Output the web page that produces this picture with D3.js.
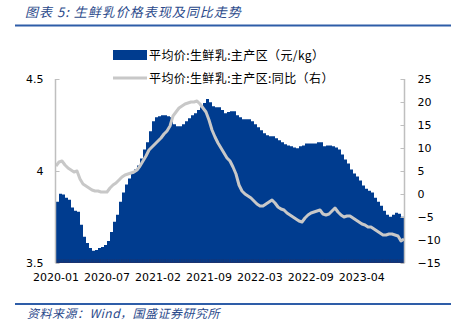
<!DOCTYPE html>
<html><head><meta charset="utf-8">
<script src="https://cdn.jsdelivr.net/npm/d3@7/dist/d3.min.js"></script>
<style>
html,body{margin:0;padding:0;background:#fff;}
svg{display:block;}
</style></head>
<body>
<svg id="c" width="466" height="327"></svg>
<script>
// ---- data ----
const titleText = "图表 5:  生鲜乳价格表现及同比走势";
const sourceText = "资料来源：Wind，国盛证券研究所";
const seriesNames = ["平均价:生鲜乳:主产区（元/kg）", "平均价:生鲜乳:主产区:同比（右）"];
const totalWeeks = 198; // weekly categories 0..198
const tickWeeks = [0, 29, 58, 87, 116, 145, 174];
const tickLabels = ["2020-01", "2020-07", "2021-02", "2021-09", "2022-03", "2022-09", "2023-04"];
const leftTicks = [3.5, 4, 4.5];
const rightTicks = [-15, -10, -5, 0, 5, 10, 15, 20, 25];

// price (元/kg), sampled evenly across the weeks
const price = [3.833,3.877,3.872,3.855,3.844,3.801,3.784,3.779,3.708,3.642,3.609,3.582,3.566,3.571,3.582,3.587,3.598,3.620,3.669,3.724,
3.762,3.833,3.883,3.926,3.959,3.986,4.008,4.030,4.068,4.117,4.156,4.216,4.270,4.292,4.298,4.303,4.303,4.298,4.292,4.254,
4.243,4.243,4.254,4.270,4.287,4.303,4.314,4.331,4.347,4.369,4.391,4.374,4.352,4.347,4.347,4.331,4.314,4.320,4.325,4.325,
4.303,4.292,4.281,4.281,4.281,4.270,4.254,4.238,4.221,4.205,4.194,4.189,4.189,4.178,4.167,4.156,4.145,4.139,4.134,4.128,
4.123,4.134,4.139,4.150,4.150,4.150,4.150,4.156,4.156,4.134,4.139,4.139,4.134,4.128,4.117,4.090,4.063,4.041,4.008,3.986,
3.970,3.948,3.921,3.904,3.893,3.883,3.855,3.833,3.811,3.784,3.762,3.751,3.762,3.773,3.768,3.751,3.735];

// YoY (%)
const yoy = [6.09,6.96,7.17,6.30,5.65,5.22,4.78,5.00,3.26,2.17,1.74,1.30,0.87,0.65,0.65,0.43,0.43,0.43,1.30,1.96,
2.39,3.04,3.70,4.13,4.35,4.57,4.78,5.22,6.09,7.17,8.26,9.57,10.22,10.87,11.52,12.17,13.04,13.70,14.78,16.96,
17.83,18.70,19.13,19.57,19.78,20.00,20.00,20.22,19.57,18.70,17.83,16.09,13.91,12.39,11.09,10.00,8.91,7.83,7.17,5.87,
4.35,1.96,0.65,0.00,-0.43,-0.87,-1.52,-2.17,-2.61,-2.61,-2.17,-1.74,-1.30,-1.96,-2.83,-3.26,-3.48,-4.13,-4.57,-5.00,
-5.43,-5.87,-6.09,-5.22,-4.57,-4.13,-3.91,-3.70,-3.48,-4.35,-4.57,-4.35,-3.70,-3.04,-3.91,-4.57,-5.00,-4.78,-4.78,-5.22,
-5.65,-6.09,-6.52,-6.74,-7.17,-7.17,-7.61,-8.04,-8.48,-8.91,-8.91,-8.70,-8.70,-8.91,-9.13,-10.22,-9.78];

// ---- chart ----
const svg = d3.select("#c");
const blue = "#003C8F";
const gray = "#C8C8C8";
const axisGray = "#BFBFBF";
const cjk = "'Noto Sans CJK SC', 'Noto Sans', sans-serif";
const num = "'DejaVu Sans', Verdana, sans-serif";

const L = 56, R = 404, T = 79, B = 263;
const n = price.length;
const x = d3.scaleLinear().domain([0, totalWeeks]).range([L, R]);
const weekOf = i => i * totalWeeks / (n - 1);
const yL = d3.scaleLinear().domain([3.5, 4.5]).range([B, T]);
const yR = d3.scaleLinear().domain([-15, 25]).range([B, T]);

// title
svg.append("text").attr("x", 25).attr("y", 17).text(titleText)
  .attr("font-family", cjk).attr("font-size", 13).attr("font-style", "italic")
  .attr("letter-spacing", 1).attr("fill", "#2B4A8B");
svg.append("line").attr("x1", 15).attr("x2", 451).attr("y1", 25.5).attr("y2", 25.5)
  .attr("stroke", "#2E5DA8").attr("stroke-width", 1.8);

// area
const area = d3.area().x((d, i) => x(weekOf(i))).y0(B).y1(d => yL(d)).curve(d3.curveStepAfter);
svg.append("path").datum(price).attr("d", area).attr("fill", blue);

// weekly tick marks on the category axis
svg.append("g").selectAll("line").data(d3.range(0, totalWeeks + 1)).join("line")
  .attr("x1", d => x(d) + 0.5).attr("x2", d => x(d) + 0.5).attr("y1", B - 4).attr("y2", B)
  .attr("stroke", "#1B3370").attr("stroke-width", 0.8);
svg.append("line").attr("x1", L).attr("x2", R).attr("y1", B - 0.5).attr("y2", B - 0.5)
  .attr("stroke", "#1B3370").attr("stroke-width", 1);

// line
const line = d3.line().x((d, i) => x(weekOf(i))).y(d => yR(d)).curve(d3.curveLinear);
svg.append("path").datum(yoy).attr("d", line).attr("fill", "none")
  .attr("stroke", gray).attr("stroke-width", 3).attr("stroke-linejoin", "round");

// left axis
const gl = svg.append("g").attr("transform", `translate(${L - 0.5},0)`)
  .call(d3.axisLeft(yL).tickValues(leftTicks).tickSize(-4).tickPadding(12).tickFormat(d3.format("")));
gl.select(".domain").attr("stroke", axisGray).attr("stroke-width", 1.5).attr("d", `M0,${T}V${B}`);
gl.selectAll(".tick line").attr("stroke", axisGray);
gl.selectAll("text").attr("font-family", num).attr("font-size", 11).attr("fill", "#000");

// right axis
const gr = svg.append("g").attr("transform", `translate(${R + 0.5},0)`)
  .call(d3.axisRight(yR).tickValues(rightTicks).tickSize(-4).tickPadding(13));
gr.select(".domain").attr("stroke", axisGray).attr("stroke-width", 1.5).attr("d", `M0,${T}V${B}`);
gr.selectAll(".tick line").attr("stroke", axisGray);
gr.selectAll("text").attr("font-family", num).attr("font-size", 11).attr("fill", "#000");

// x labels
svg.append("g").selectAll("text").data(tickWeeks).join("text")
  .attr("x", d => x(d)).attr("y", 281).attr("text-anchor", "middle")
  .text((d, i) => tickLabels[i])
  .attr("font-family", num).attr("font-size", 11).attr("fill", "#000");

// legend
const lg = svg.append("g");
lg.append("rect").attr("x", 113).attr("y", 50).attr("width", 34).attr("height", 10).attr("fill", blue);
lg.append("text").attr("x", 149).attr("y", 59.5).text(seriesNames[0])
  .attr("font-family", cjk).attr("font-size", 12).attr("letter-spacing", 0.4).attr("fill", "#000");
lg.append("line").attr("x1", 113).attr("x2", 147).attr("y1", 78).attr("y2", 78)
  .attr("stroke", gray).attr("stroke-width", 3);
lg.append("text").attr("x", 149).attr("y", 82.5).text(seriesNames[1])
  .attr("font-family", cjk).attr("font-size", 12).attr("letter-spacing", 0.4).attr("fill", "#000");

// footer
svg.append("line").attr("x1", 15).attr("x2", 451).attr("y1", 304).attr("y2", 304)
  .attr("stroke", "#2E5DA8").attr("stroke-width", 1.8);
svg.append("text").attr("x", 27).attr("y", 318).text(sourceText)
  .attr("font-family", cjk).attr("font-size", 12).attr("font-style", "italic")
  .attr("letter-spacing", 0.5).attr("fill", "#2B4A8B");
</script>
</body></html>
